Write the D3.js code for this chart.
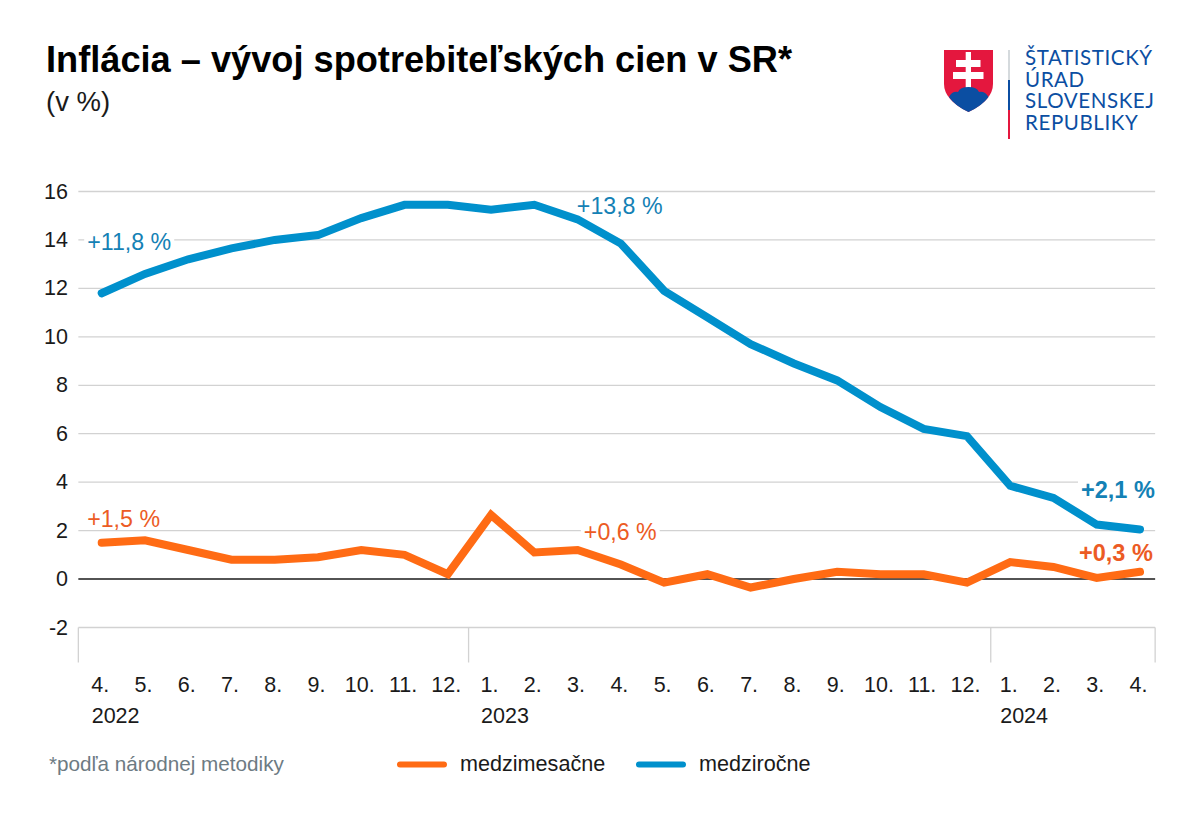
<!DOCTYPE html>
<html>
<head>
<meta charset="utf-8">
<script src="https://cdn.jsdelivr.net/npm/d3@7"></script>
<style>
html, body { margin: 0; padding: 0; background: #fff; }
svg { display: block; }
text { font-family: "Liberation Sans", Arial, sans-serif; }
</style>
</head>
<body>
<svg id="chart" width="1200" height="818"></svg>
<script>
// data
var months = ["4.","5.","6.","7.","8.","9.","10.","11.","12.","1.","2.","3.","4.","5.","6.","7.","8.","9.","10.","11.","12.","1.","2.","3.","4."];
var medzirocne = [11.8,12.6,13.2,13.65,14.0,14.2,14.9,15.45,15.45,15.25,15.45,14.85,13.85,11.9,10.8,9.7,8.9,8.2,7.1,6.2,5.9,3.85,3.35,2.25,2.05];
var medzimesacne = [1.5,1.6,1.2,0.8,0.8,0.9,1.2,1.0,0.2,2.65,1.1,1.2,0.6,-0.15,0.2,-0.35,0,0.3,0.2,0.2,-0.15,0.7,0.5,0.05,0.3];
var yTicks = [16,14,12,10,8,6,4,2,0,-2];
var years = [{label:"2022", at:0},{label:"2023", at:9},{label:"2024", at:21}];
var yearEdges = [-0.54, 8.48, 20.55, 24.35];

var BLUE = "#0090cc", ORANGE = "#ff6b14";
var BLUE_TXT = "#1481b5", ORANGE_TXT = "#ec5b24";

var svg = d3.select("#chart");

var x = d3.scaleLinear().domain([0, 24]).range([101.7, 1140]);
var y = d3.scaleLinear().domain([16, -2]).range([191.5, 627.5]);

// title
svg.append("text").attr("x", 46).attr("y", 72).attr("font-size", 36.2).attr("font-weight", "bold").attr("fill", "#000")
    .text("Inflácia – vývoj spotrebiteľských cien v SR*");
svg.append("text").attr("x", 46).attr("y", 111).attr("font-size", 27.5).attr("fill", "#1a1a1a").text("(v %)");

// grid
var left = x(yearEdges[0]), right = x(yearEdges[3]);
svg.append("g").selectAll("line").data(yTicks).join("line")
    .attr("x1", left).attr("x2", right)
    .attr("y1", function(d){ return y(d); }).attr("y2", function(d){ return y(d); })
    .attr("stroke", function(d){ return d == 0 ? "#1a1a1a" : "#d2d2d2"; })
    .attr("stroke-width", function(d){ return d == 0 ? 1.6 : 1.3; });

svg.append("g").selectAll("line").data(yearEdges).join("line")
    .attr("x1", function(d){ return x(d); }).attr("x2", function(d){ return x(d); })
    .attr("y1", y(-2)).attr("y2", y(-2) + 35)
    .attr("stroke", "#d2d2d2").attr("stroke-width", 1.3);

svg.append("g").selectAll("text").data(yTicks).join("text")
    .attr("x", 68).attr("y", function(d){ return y(d) - 0.5; })
    .attr("dy", "0.35em").attr("text-anchor", "end")
    .attr("font-size", 21.5).attr("fill", "#1a1a1a")
    .text(function(d){ return d; });

// x labels
svg.append("g").selectAll("text").data(months).join("text")
    .attr("x", function(d, i){ return x(i) - 1.5; }).attr("y", 692)
    .attr("text-anchor", "middle").attr("font-size", 21.5).attr("fill", "#1a1a1a")
    .text(function(d){ return d; });

svg.append("g").selectAll("text").data(years).join("text")
    .attr("x", function(d){ return x(d.at) - 10; }).attr("y", 723)
    .attr("font-size", 21.5).attr("fill", "#1a1a1a")
    .text(function(d){ return d.label; });

// lines
var line = d3.line().x(function(d, i){ return x(i); }).y(function(d){ return y(d); });
var seriesPaths = [[medzirocne, BLUE], [medzimesacne, ORANGE]].map(function(s){
    return svg.append("path").datum(s[0]).attr("d", line)
        .attr("fill", "none").attr("stroke", s[1]).attr("stroke-width", 8)
        .attr("stroke-linejoin", "miter").attr("stroke-linecap", "round");
});

// value labels, white box behind so the grid breaks around them
var labels = [
    {t:"+11,8 %", i:0, v:medzirocne[0], dx:-14.5, dy:-43, c:BLUE_TXT, b:false},
    {t:"+13,8 %", i:12, v:medzirocne[12], dx:-44, dy:-30, c:BLUE_TXT, b:false},
    {t:"+2,1 %", i:24, v:medzirocne[24], dx:-59, dy:-31, c:BLUE_TXT, b:true},
    {t:"+1,5 %", i:0, v:medzimesacne[0], dx:-14.5, dy:-16, c:ORANGE_TXT, b:false},
    {t:"+0,6 %", i:12, v:medzimesacne[12], dx:-37, dy:-25, c:ORANGE_TXT, b:false},
    {t:"+0,3 %", i:24, v:medzimesacne[24], dx:-61, dy:-11, c:ORANGE_TXT, b:true}
];
var lab = svg.append("g").selectAll("g").data(labels).join("g");
lab.append("text")
    .attr("x", function(d){ return x(d.i) + d.dx; })
    .attr("y", function(d){ return y(d.v) + d.dy; })
    .attr("font-size", function(d){ return d.b ? 23.5 : 23.2; })
    .attr("font-weight", function(d){ return d.b ? "bold" : "normal"; })
    .attr("fill", function(d){ return d.c; })
    .text(function(d){ return d.t; });
lab.each(function(){
    var t = d3.select(this).select("text"), b = t.node().getBBox();
    d3.select(this).insert("rect", "text")
        .attr("x", b.x - 3).attr("y", b.y + 3).attr("width", b.width + 6).attr("height", b.height - 5)
        .attr("fill", "#fff");
});
// the white boxes must not cover the lines, so raise those above them
seriesPaths.forEach(function(p){ p.raise(); });
lab.select("text").raise();

// footnote and legend
svg.append("text").attr("x", 49).attr("y", 771).attr("font-size", 20.7).attr("fill", "#6d7b83").text("*podľa národnej metodiky");

var legend = [{t:"medzimesačne", c:ORANGE, lx:400, tx:460},{t:"medziročne", c:BLUE, lx:639, tx:699}];
svg.append("g").selectAll("line").data(legend).join("line")
    .attr("x1", function(d){ return d.lx; }).attr("x2", function(d){ return d.lx + 44; })
    .attr("y1", 764.5).attr("y2", 764.5)
    .attr("stroke", function(d){ return d.c; }).attr("stroke-width", 6).attr("stroke-linecap", "round");
svg.append("g").selectAll("text").data(legend).join("text")
    .attr("x", function(d){ return d.tx; }).attr("y", 771)
    .attr("font-size", 21.6).attr("fill", "#1a1a1a")
    .text(function(d){ return d.t; });

// logo
var logo = svg.append("g");
logo.append("path").attr("fill", "#e4173e")
    .attr("d", "M944 50H993V84Q993 100 968.500 112Q944 100 944 84Z");
logo.append("path").attr("fill", "#fff")
    .attr("d", "M965.700 52H971V60H980.500V67H971V72H983.500V79H971V89H965.700V79H953V72H965.700V67H956V60H965.700Z");
logo.append("path").attr("fill", "#0b4ea2")
    .attr("d", "M949 97Q952 91 958 92Q960 87 968.500 87Q977 87 979 92Q985 91 988.500 97Q982 106 968.500 112Q955 106 949 97Z");
logo.append("rect").attr("x", 1008).attr("y", 50).attr("width", 2).attr("height", 30).attr("fill", "#d5dadd");
logo.append("rect").attr("x", 1008).attr("y", 80).attr("width", 2).attr("height", 30).attr("fill", "#0b4ea2");
logo.append("rect").attr("x", 1008).attr("y", 110).attr("width", 2).attr("height", 29).attr("fill", "#e4173e");

var logoLines = ["ŠTATISTICKÝ","ÚRAD","SLOVENSKEJ","REPUBLIKY"];
logo.selectAll("text").data(logoLines).join("text")
    .attr("x", 1025).attr("y", function(d, i){ return 65 + i * 21.7; })
    .attr("font-size", 20.5).attr("letter-spacing", 0.6).attr("fill", "#0b4ea2")
    .style("font-family", "Lato, 'Noto Sans', sans-serif")
    .text(function(d){ return d; });
</script>
</body>
</html>
